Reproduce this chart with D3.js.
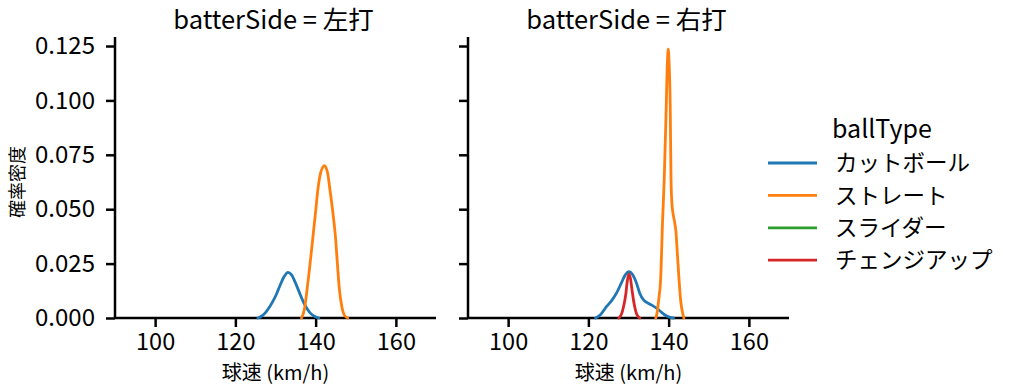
<!DOCTYPE html>
<html>
<head>
<meta charset="utf-8">
<script src="https://cdn.jsdelivr.net/npm/d3@7"></script>
<style>
  html, body { margin: 0; padding: 0; background: #ffffff; }
  svg { display: block; }
  text { font-family: "Noto Sans CJK JP", "Noto Sans", sans-serif; fill: #000; }
</style>
</head>
<body>
<svg id="chart" width="1014" height="391"></svg>
<script>
// ---------- data ----------
const panelNames = ["左打", "右打"];
const ballTypes = ["カットボール", "ストレート", "スライダー", "チェンジアップ"];
const ballColors = ["#1f77b4", "#ff7f0e", "#2ca02c", "#d62728"];
const speedTicks = [100, 120, 140, 160];
const densityTicks = [0, 0.025, 0.05, 0.075, 0.1, 0.125];
const densityTickLabels = ["0.000", "0.025", "0.050", "0.075", "0.100", "0.125"];

// 左打 — カットボール
const leftCutSpeed   = [125.6, 126.5, 127.5, 128.3, 129.2, 130.2, 131.2, 132.2, 133.1, 134.0, 135.0, 136.2, 137.0, 137.8, 138.8, 139.8, 140.8];
const leftCutDensity = [0, 0.0008, 0.0025, 0.0045, 0.0072, 0.0108, 0.0153, 0.0192, 0.0210, 0.0198, 0.0160, 0.0106, 0.0072, 0.0045, 0.0020, 0.0007, 0];
// 左打 — ストレート
const leftStrSpeed   = [136.5, 137.2, 137.9, 138.5, 139.2, 140.0, 140.6, 141.3, 142.2, 143.0, 143.6, 144.2, 145.0, 145.5, 145.9, 146.5, 147.2, 148.0];
const leftStrDensity = [0, 0.004, 0.0136, 0.023, 0.035, 0.049, 0.0596, 0.0670, 0.0700, 0.0665, 0.0585, 0.050, 0.036, 0.023, 0.0136, 0.0055, 0.0012, 0];
// 右打 — カットボール
const rightCutSpeed   = [121.8, 123.0, 124.5, 125.8, 127.0, 128.2, 129.2, 130.1, 131.0, 132.0, 132.8, 133.8, 134.9, 136.0, 137.0, 138.0, 139.1, 140.2, 141.2];
const rightCutDensity = [0, 0.0015, 0.0052, 0.0080, 0.0114, 0.0160, 0.0198, 0.0213, 0.0200, 0.0160, 0.0114, 0.0082, 0.0068, 0.0057, 0.0045, 0.0030, 0.0014, 0.0004, 0];
// 右打 — ストレート
const rightStrSpeed   = [136.8, 137.1, 137.5, 138.0, 138.5, 138.9, 139.4, 139.7, 139.9, 140.1, 140.4, 140.6, 140.85, 141.1, 141.5, 141.8, 142.2, 142.6, 143.0, 143.5, 143.8];
const rightStrDensity = [0, 0.0022, 0.008, 0.0175, 0.045, 0.0634, 0.097, 0.118, 0.1235, 0.118, 0.097, 0.0634, 0.052, 0.048, 0.044, 0.040, 0.029, 0.0175, 0.008, 0.0022, 0];
// 右打 — チェンジアップ
const rightChgSpeed   = [127.6, 128.3, 128.8, 129.3, 129.7, 130.1, 130.5, 130.9, 131.4, 131.9, 132.4, 132.8];
const rightChgDensity = [0, 0.002, 0.0055, 0.0106, 0.0170, 0.0203, 0.0180, 0.0125, 0.0065, 0.0025, 0.0006, 0];

const panelSeries = [
  [ {type: 0, x: leftCutSpeed, y: leftCutDensity}, {type: 1, x: leftStrSpeed, y: leftStrDensity} ],
  [ {type: 0, x: rightCutSpeed, y: rightCutDensity}, {type: 1, x: rightStrSpeed, y: rightStrDensity}, {type: 3, x: rightChgSpeed, y: rightChgDensity} ]
];

// ---------- layout ----------
const svg = d3.select("#chart");
const panelRanges = [[115, 436], [468, 789]];
const yTop = 37, yBottom = 318;
const y = d3.scaleLinear().domain([0, 0.12914]).range([yBottom, yTop]);

panelRanges.forEach((rng, i) => {
  const x = d3.scaleLinear().domain([90, 170]).range(rng);
  const g = svg.append("g");

  // x axis
  const xAxis = d3.axisBottom(x).tickValues(speedTicks).tickFormat(d3.format("d")).tickSize(9).tickPadding(6.5);
  const gx = g.append("g").attr("transform", `translate(0,${yBottom})`).call(xAxis);
  gx.select(".domain").attr("stroke", "#000").attr("stroke-width", 2.5).attr("d", `M${rng[0]},0H${rng[1]}`);
  gx.selectAll(".tick line").attr("stroke", "#000").attr("stroke-width", 2.5);
  gx.selectAll(".tick text").attr("font-size", 23.5).attr("font-family", "Noto Sans CJK JP").attr("fill", "#000");

  // y axis
  const yAxis = d3.axisLeft(y).tickValues(densityTicks).tickSize(9).tickPadding(11)
    .tickFormat((d, k) => i === 0 ? densityTickLabels[k] : "");
  const gy = g.append("g").attr("transform", `translate(${rng[0]},0)`).call(yAxis);
  gy.select(".domain").attr("stroke", "#000").attr("stroke-width", 2.5).attr("d", `M0,${yTop}V${yBottom}`);
  gy.selectAll(".tick line").attr("stroke", "#000").attr("stroke-width", 2.5);
  gy.selectAll(".tick text").attr("font-size", 24).attr("font-family", "Noto Sans CJK JP").attr("fill", "#000");

  // title
  g.append("text")
    .attr("x", (rng[0] + rng[1]) / 2 - 2).attr("y", 29)
    .attr("text-anchor", "middle").attr("font-size", 25.5)
    .text("batterSide = " + panelNames[i]);

  // x label
  g.append("text")
    .attr("x", (rng[0] + rng[1]) / 2).attr("y", 380)
    .attr("text-anchor", "middle").attr("font-size", 20)
    .text("球速 (km/h)");

  // curves
  const line = d3.line().curve(d3.curveMonotoneX);
  panelSeries[i].forEach(s => {
    const pts = s.x.map((v, k) => [x(v), y(s.y[k])]);
    g.append("path").attr("d", line(pts))
      .attr("fill", "none").attr("stroke", ballColors[s.type])
      .attr("stroke-width", 2.8).attr("stroke-linejoin", "round").attr("stroke-linecap", "round");
  });
});

// y label
svg.append("text")
  .attr("transform", `translate(24,182) rotate(-90)`)
  .attr("text-anchor", "middle").attr("font-size", 18)
  .text("確率密度");

// legend
const legend = svg.append("g");
legend.append("text").attr("x", 832).attr("y", 138).attr("font-size", 25).text("ballType");
ballTypes.forEach((name, k) => {
  const ly = 163 + k * 32.4;
  legend.append("line").attr("x1", 768).attr("x2", 817).attr("y1", ly).attr("y2", ly)
    .attr("stroke", ballColors[k]).attr("stroke-width", 2.8);
  legend.append("text").attr("x", 835).attr("y", ly).attr("dy", "0.36em")
    .attr("font-size", 22.5).text(name);
});
</script>
</body>
</html>
